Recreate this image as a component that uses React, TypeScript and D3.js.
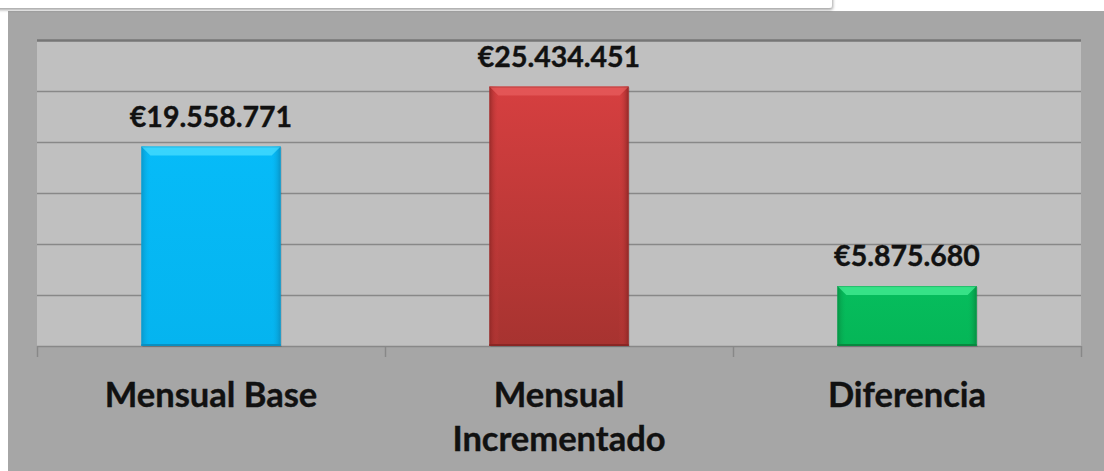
import React from "react"
import * as d3 from "d3"

const categories = ["Mensual Base", "Mensual Incrementado", "Diferencia"]
const categoryLines = [["Mensual Base"], ["Mensual", "Incrementado"], ["Diferencia"]]
const values = [19558771, 25434451, 5875680]
const valueLabels = ["€19.558.771", "€25.434.451", "€5.875.680"]
const yTicks = [0, 5000000, 10000000, 15000000, 20000000, 25000000, 30000000]

const barColors = [
  { top: "#4fe0ff", main: "#06bbf8", bottom: "#05b4ef", edge: "#0a8fc0" },
  { top: "#e86060", main: "#d63f40", bottom: "#a73330", edge: "#8a2624" },
  { top: "#4cf29a", main: "#06bd5d", bottom: "#05b657", edge: "#07893f" },
]

const W = 1104
const H = 471
const plot = { left: 37, right: 1081, top: 40, bottom: 346 }

export default function App() {
  const x = d3
    .scaleBand()
    .domain(categories)
    .range([plot.left, plot.right])
    .paddingInner(0.6)
    .paddingOuter(0.3)

  const y = d3.scaleLinear().domain([0, 30000000]).range([plot.bottom, plot.top])

  const band = (plot.right - plot.left) / categories.length
  const tickXs = d3.range(categories.length + 1).map(i => plot.left + i * band)

  const font = "Lato, 'Open Sans', sans-serif"

  return (
    <svg
      width={W}
      height={H}
      style={{ position: "absolute", left: 0, top: 0, background: "#fff" }}
    >
      <defs>
        <filter id="boxShadow" x="-5%" y="-50%" width="110%" height="250%">
          <feDropShadow dx="1" dy="2" stdDeviation="1.5" floodColor="#000" floodOpacity="0.35" />
        </filter>
        {barColors.map((c, i) => (
          <linearGradient key={i} id={`grad${i}`} x1="0" y1="0" x2="0" y2="1">
            <stop offset="0%" stopColor={c.main} />
            <stop offset="100%" stopColor={c.bottom} />
          </linearGradient>
        ))}
        {barColors.map((c, i) => (
          <linearGradient key={i} id={`side${i}`} x1="0" y1="0" x2="1" y2="0">
            <stop offset="0%" stopColor={c.edge} stopOpacity="0.8" />
            <stop offset="7%" stopColor={c.main} stopOpacity="0" />
            <stop offset="93%" stopColor={c.main} stopOpacity="0" />
            <stop offset="100%" stopColor={c.edge} stopOpacity="0.9" />
          </linearGradient>
        ))}
      </defs>

      {/* outer chart area */}
      <rect x={8} y={11} width={W - 8} height={H - 11} fill="#a6a6a6" />

      {/* white panel at top */}
      <rect x={-10} y={-10} width={842} height={18} rx={3} fill="#fff" filter="url(#boxShadow)" />

      {/* plot area */}
      <rect
        x={plot.left}
        y={plot.top}
        width={plot.right - plot.left}
        height={plot.bottom - plot.top}
        fill="#c0c0c0"
      />

      {/* gridlines */}
      {yTicks.map((t, i) => (
        <line
          key={i}
          x1={plot.left}
          x2={plot.right}
          y1={Math.round(y(t)) + 0.5}
          y2={Math.round(y(t)) + 0.5}
          stroke={i === yTicks.length - 1 ? "#767676" : "#888888"}
          strokeWidth={i === yTicks.length - 1 ? 2.5 : 1.5}
        />
      ))}

      {/* category tick marks */}
      {tickXs.map((tx, i) => (
        <line
          key={i}
          x1={Math.round(tx) + 0.5}
          x2={Math.round(tx) + 0.5}
          y1={plot.bottom}
          y2={plot.bottom + 11}
          stroke="#888888"
          strokeWidth={1.5}
        />
      ))}

      {/* bars */}
      {categories.map((cat, i) => {
        const bx = x(cat) as number
        const bw = x.bandwidth()
        const by = y(values[i])
        const bh = plot.bottom - by
        const c = barColors[i]
        const bev = 9
        return (
          <g key={cat}>
            <rect x={bx + 1} y={by + 1} width={bw} height={bh} fill="#000" opacity={0.15} />
            <rect x={bx} y={by} width={bw} height={bh} fill={`url(#grad${i})`} />
            <rect x={bx} y={by} width={bw} height={bh} fill={`url(#side${i})`} />
            <polygon
              points={`${bx},${by} ${bx + bw},${by} ${bx + bw - bev},${by + bev} ${bx + bev},${by + bev}`}
              fill={c.top}
              opacity={0.7}
            />
            <line x1={bx} x2={bx + bw} y1={by + 0.5} y2={by + 0.5} stroke={c.edge} opacity={0.4} />
            <line x1={bx} x2={bx + bw} y1={plot.bottom - 1} y2={plot.bottom - 1} stroke={c.edge} strokeWidth={2} />
          </g>
        )
      })}

      {/* value labels */}
      {categories.map((cat, i) => (
        <text
          key={cat}
          x={(x(cat) as number) + x.bandwidth() / 2}
          y={y(values[i]) - 20}
          textAnchor="middle"
          fontFamily={font}
          fontWeight="bold"
          fontSize={28.5}
          fill="#111"
          stroke="#111"
          strokeWidth={0.4}
        >
          {valueLabels[i]}
        </text>
      ))}

      {/* category labels */}
      {categories.map((cat, i) => (
        <text
          key={cat}
          x={(x(cat) as number) + x.bandwidth() / 2}
          y={407}
          textAnchor="middle"
          fontFamily={font}
          fontWeight="bold"
          fontSize={34.5}
          fill="#111"
          stroke="#111"
          strokeWidth={0.4}
        >
          {categoryLines[i].map((line, j) => (
            <tspan key={j} x={(x(cat) as number) + x.bandwidth() / 2} dy={j === 0 ? 0 : 44}>
              {line}
            </tspan>
          ))}
        </text>
      ))}
    </svg>
  )
}
